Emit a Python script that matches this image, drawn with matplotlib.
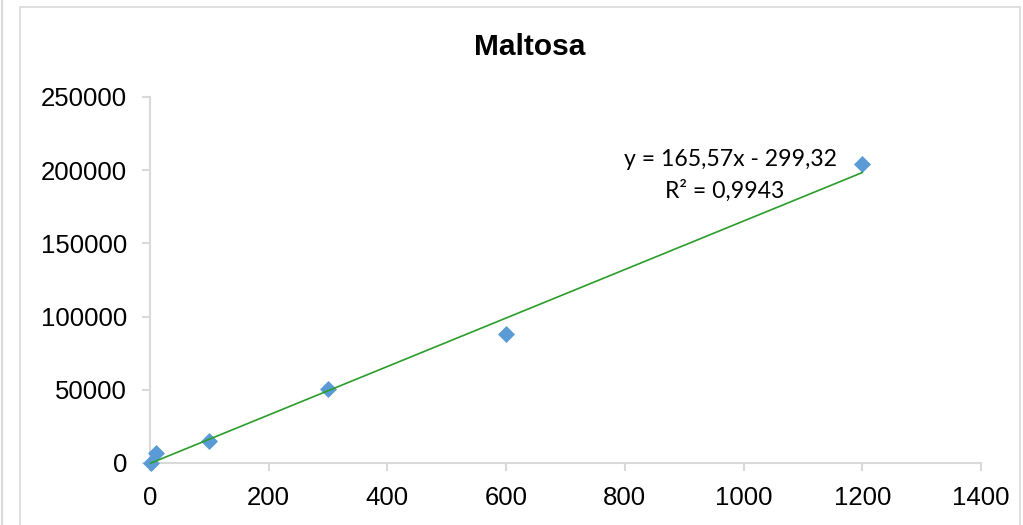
import matplotlib
matplotlib.use("Agg")
import matplotlib.pyplot as plt
from matplotlib.patches import Rectangle
from matplotlib.lines import Line2D

# dados (concentração x área)
concentracao = [1, 10, 100, 300, 600, 1200]
area = [0, 6500, 15000, 50500, 88000, 204500]

# linha de tendência (da equação mostrada)
inclinacao = 165.57
intercepto = -299.32
linha_eq = "y = 165,57x - 299,32"
linha_r2 = "R² = 0,9943"

x_ticks = [0, 200, 400, 600, 800, 1000, 1200, 1400]
y_ticks = [0, 50000, 100000, 150000, 200000, 250000]

eixo_cor = "#d9d9d9"
W, H = 1023, 525

fig = plt.figure(figsize=(W / 100, H / 100), dpi=100)
ax = fig.add_axes([150 / W, 62 / H, 831 / W, 366 / H])

# moldura do gráfico
fig.patches.append(Rectangle((20 / W, -0.05), 1000 / W, 1.05 - 7 / H,
                             transform=fig.transFigure, fill=False,
                             edgecolor=eixo_cor, lw=1.2))
fig.lines.append(Line2D([2 / W, 2 / W], [0, 1], transform=fig.transFigure,
                        color=eixo_cor, lw=1.5))

# pontos sem recorte, como no Excel
ax.scatter(concentracao, area, marker="D", s=75, color="#5b9bd5", zorder=3,
           linewidths=0, clip_on=False)

x_lin = [min(concentracao), max(concentracao)]
y_lin = [inclinacao * v + intercepto for v in x_lin]
ax.plot(x_lin, y_lin, color="#2a9d2a", lw=1.2, zorder=4, clip_on=False)

ax.set_xlim(0, 1400)
ax.set_ylim(0, 250000)
ax.set_xticks(x_ticks)
ax.set_yticks(y_ticks)
ax.set_xticklabels([str(t) for t in x_ticks], fontsize=18.5, family="Liberation Sans")
ax.set_yticklabels([str(t) for t in y_ticks], fontsize=18.5, family="Liberation Sans")

for lado in ["top", "right"]:
    ax.spines[lado].set_visible(False)
for lado in ["left", "bottom"]:
    ax.spines[lado].set_color(eixo_cor)
    ax.spines[lado].set_linewidth(1.5)
ax.tick_params(direction="out", length=5.5, width=1.5, color=eixo_cor, pad=11)

fig.text(530 / W, 1 - 55 / H, "Maltosa", ha="center", va="baseline",
         fontsize=21.5, fontweight="bold", family="Liberation Sans")

fig.text(730 / W, 1 - 166.5 / H, linha_eq, ha="center", va="baseline",
         fontsize=16.6, family="Lato")
fig.text(725 / W, 1 - 198 / H, linha_r2, ha="center", va="baseline",
         fontsize=16.6, family="Lato")

fig.savefig("out.png", dpi=100)
